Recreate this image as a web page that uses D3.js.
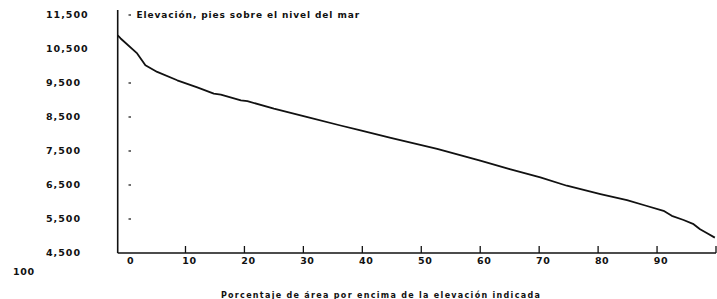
<!DOCTYPE html>
<html>
<head>
<meta charset="utf-8">
<script src="https://cdn.jsdelivr.net/npm/d3@7"></script>
<style>
  body { margin: 0; background: #fff; }
  svg text { font-family: "DejaVu Sans", sans-serif; font-weight: bold; fill: #111; }
</style>
</head>
<body>
<svg width="717" height="299"></svg>
<script>
// Curve: percent of area vs elevation (feet)
const pct = [-1.5, -1.0, 1.8, 3.2, 5.2, 8.6, 12.0, 14.8, 16.0, 19.4, 20.5, 25.0, 30.7, 36.3, 39.7,
             45.0, 52.7, 60.0, 65.0, 70.2, 74.7, 80.4, 84.9, 88.0, 91.1, 92.5, 94.5, 96.2, 97.3, 98.5, 99.8];
const elev = [10900, 10810, 10370, 10020, 9825, 9580, 9370, 9186, 9157, 8990, 8968, 8743, 8495, 8250, 8103,
              7880, 7562, 7217, 6970, 6724, 6478, 6233, 6056, 5897, 5740, 5593, 5470, 5348, 5200, 5080, 4952];

const yTicks = [11500, 10500, 9500, 8500, 7500, 6500, 5500, 4500];
const yDots = [11500, 9500, 8500, 7500, 6500, 5500];
const xLabels = [0, 10, 20, 30, 40, 50, 60, 70, 80, 90];
const xMarks = [10, 20, 30, 40, 50, 60, 70, 80, 90, 100];

const seriesLabel = "Elevación, pies sobre el nivel del mar";
const xTitle = "Porcentaje de área por encima de la elevación indicada";

const data = pct.map((p, i) => ({ p: p, e: elev[i] }));

const svg = d3.select("svg");

const x = d3.scaleLinear().domain([-1.5, 100]).range([117.7, 716]);
const y = d3.scaleLinear().domain([4500, 11500]).range([253, 15]);

// axes lines
svg.append("line")
    .attr("x1", x(-1.5)).attr("x2", x(-1.5))
    .attr("y1", 10).attr("y2", y(4500))
    .attr("stroke", "#111").attr("stroke-width", 1.6);

svg.append("line")
    .attr("x1", x(-1.5)).attr("x2", x(100))
    .attr("y1", y(4500)).attr("y2", y(4500))
    .attr("stroke", "#111").attr("stroke-width", 1.6);

// tick marks on x axis (pointing up)
svg.append("g").selectAll("line")
    .data(xMarks)
    .join("line")
    .attr("x1", d => x(d)).attr("x2", d => x(d))
    .attr("y1", y(4500)).attr("y2", y(4500) - 7)
    .attr("stroke", "#111").attr("stroke-width", 1.3);

// x labels
svg.append("g").selectAll("text")
    .data(xLabels)
    .join("text")
    .attr("x", d => x(d) + 4)
    .attr("y", 264)
    .attr("text-anchor", "middle")
    .attr("font-size", "9.5px")
    .attr("letter-spacing", "0.6px")
    .text(d => d);

// stray 100 label at the far left
svg.append("text")
    .attr("x", 13).attr("y", 275)
    .attr("font-size", "9.5px")
    .attr("letter-spacing", "0.6px")
    .text("100");

// y labels, left aligned
svg.append("g").selectAll("text")
    .data(yTicks)
    .join("text")
    .attr("x", 46)
    .attr("y", d => y(d))
    .attr("dy", "0.36em")
    .attr("font-size", "9.5px")
    .attr("letter-spacing", "1px")
    .text(d => d3.format(",")(d));

// small dash marks inside the plot
svg.append("g").selectAll("line")
    .data(yDots)
    .join("line")
    .attr("x1", 128.5).attr("x2", 131)
    .attr("y1", d => y(d)).attr("y2", d => y(d))
    .attr("stroke", "#111").attr("stroke-width", 1.2);

// series label
svg.append("text")
    .attr("x", 136.5).attr("y", y(11500))
    .attr("dy", "0.36em")
    .attr("font-size", "9px")
    .attr("letter-spacing", "0.9px")
    .text(seriesLabel);

// the curve
const line = d3.line()
    .x(d => x(d.p))
    .y(d => y(d.e));

svg.append("path")
    .datum(data)
    .attr("fill", "none")
    .attr("stroke", "#111")
    .attr("stroke-width", 1.8)
    .attr("stroke-linejoin", "round")
    .attr("d", line);

// x title
svg.append("text")
    .attr("x", 381).attr("y", 298)
    .attr("text-anchor", "middle")
    .attr("font-size", "8px")
    .attr("letter-spacing", "1.3px")
    .text(xTitle);
</script>
</body>
</html>
